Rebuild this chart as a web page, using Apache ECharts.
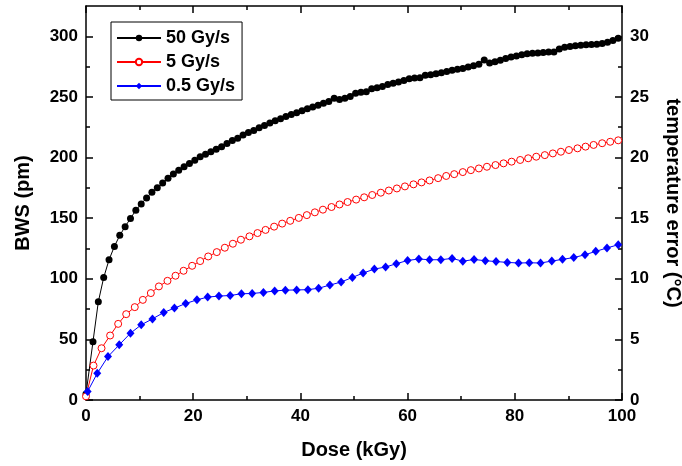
<!DOCTYPE html>
<html><head><meta charset="utf-8">
<script src="https://cdn.jsdelivr.net/npm/echarts@6/dist/echarts.min.js"></script>
<style>html,body{margin:0;padding:0;background:#fff}#c{width:682px;height:466px}</style>
</head><body><div id="c"></div>
<script>
const dose50 = [0,1.3,2.3,3.3,4.3,5.3,6.3,7.3,8.3,9.3,10.3,11.3,12.3,13.3,14.3,15.3,16.3,17.3,18.3,19.3,20.3,21.3,22.3,23.3,24.3,25.3,26.3,27.3,28.3,29.3,30.3,31.3,32.3,33.3,34.3,35.3,36.3,37.3,38.3,39.3,40.3,41.3,42.3,43.3,44.3,45.3,46.3,47.3,48.3,49.3,50.3,51.3,52.3,53.3,54.3,55.3,56.3,57.3,58.3,59.3,60.3,61.3,62.3,63.3,64.3,65.3,66.3,67.3,68.3,69.3,70.3,71.3,72.3,73.3,74.3,75.3,76.3,77.3,78.3,79.3,80.3,81.3,82.3,83.3,84.3,85.3,86.3,87.3,88.3,89.3,90.3,91.3,92.3,93.3,94.3,95.3,96.3,97.3,98.3,99.3];
const bws50 = [5,48,81,101,115.7,126.7,135.8,143,149.8,156.5,161.7,166.7,171.3,175,179,182.9,186.5,189.5,192.3,195,197.8,200.6,202.8,204.7,206.9,209,211.5,214,216,218.5,220.6,222.4,224.5,226.5,228.5,230.3,232,233.8,235.5,237,238.6,240.2,241.7,243.2,244.8,246.3,249,247.8,249,250.3,253,253.8,254.3,256.8,257.5,258.7,260.3,261.2,262.3,263.6,265,265.6,265.8,267.8,268.3,269.2,270,271,271.9,272.8,273.5,274.6,275.8,277,280.5,278,279,280.2,281.6,283,283.8,284.8,285.6,286,286.3,286.6,287,287,289.5,291,291.6,292.2,292.6,293,293.2,293.5,294,295,296.5,298.3];
const dose5 = [0,1.4,2.9,4.5,6.0,7.5,9.1,10.6,12.1,13.6,15.2,16.7,18.2,19.8,21.3,22.8,24.4,25.9,27.4,28.9,30.5,32.0,33.5,35.1,36.6,38.1,39.7,41.2,42.7,44.2,45.8,47.3,48.8,50.4,51.9,53.4,55.0,56.5,58.0,59.5,61.1,62.6,64.1,65.7,67.2,68.7,70.3,71.8,73.3,74.8,76.4,77.9,79.4,81.0,82.5,84.0,85.6,87.1,88.6,90.1,91.7,93.2,94.7,96.3,97.8,99.3];
const bws5 = [3,28.4,42.7,53.2,62.8,70.8,76.6,82.6,88.2,93.7,98.3,102.5,106.6,110.7,114.6,118.4,122,125.6,128.9,132.2,135,137.7,140.3,143,145.5,147.8,150.2,152.5,154.8,157,159.2,161.3,163.3,165.3,167.2,169.1,171,172.8,174.5,176.2,177.9,179.5,181.1,183,184.8,186.3,188,189.6,191,192.4,193.8,195.2,196.6,198,199.4,200.7,202,203.4,204.8,206.2,207.6,209,210.4,211.8,213,214.2];
const dose05 = [0.3,2.1,4.1,6.2,8.3,10.3,12.4,14.5,16.5,18.6,20.7,22.7,24.8,26.9,29.0,31.0,33.1,35.2,37.2,39.3,41.4,43.4,45.5,47.6,49.7,51.7,53.8,55.9,57.9,60.0,62.1,64.1,66.2,68.3,70.3,72.4,74.5,76.5,78.6,80.7,82.7,84.8,86.9,88.9,91.0,93.1,95.1,97.2,99.3];
const bws05 = [7,22,35.8,45.5,55.1,62,66.9,72.2,75.8,79.6,82.6,84.9,85.7,86.2,87.6,87.9,88.7,90,90.6,90.8,91,92.2,94.8,97.3,101.1,104.7,108,109.7,112.4,115.1,116.3,115.7,115.7,116.8,114.5,115.9,114.9,114.2,113.5,113,113.2,113,114.6,116,117.5,119.8,122.6,125.4,128.1];
const leftMajor = [0,50,100,150,200,250,300];
const leftMinor = [25,75,125,175,225,275];
const rightMajor = [0,5,10,15,20,25,30];
const rightMinor = [2.5,7.5,12.5,17.5,22.5,27.5];
const seriesNames = ['50 Gy/s','5 Gy/s','0.5 Gy/s'];

const FONT = '"Liberation Sans", Arial, sans-serif';
const lbl = {color:'#000', fontFamily:FONT, fontWeight:'bold', fontSize:17};
const lineAx = {show:true, onZero:false, lineStyle:{color:'#000', width:1.5}};
function zip(a,b){return a.map((v,i)=>[v,b[i]]);}

const chart = echarts.init(document.getElementById('c'), null, {renderer:'canvas'});
chart.setOption({
  animation:false,
  backgroundColor:'#fff',
  grid:{left:86, right:60, top:6, bottom:66, outerBoundsMode:'none', containLabel:false},
  legend:{
    left:111, top:22, orient:'vertical',
    backgroundColor:'#fff', borderColor:'#000', borderWidth:1,
    padding:[7,7,5,5], itemWidth:44, itemHeight:8, itemGap:6,
    textStyle:{color:'#000', fontFamily:FONT, fontWeight:'bold', fontSize:18},
    data:seriesNames
  },
  xAxis:[
    {type:'value', min:0, max:100, interval:20, position:'bottom',
     name:'Dose (kGy)', nameLocation:'middle', nameGap:40,
     nameTextStyle:{color:'#000', fontFamily:FONT, fontWeight:'bold', fontSize:20},
     axisLine:lineAx, splitLine:{show:false},
     axisTick:{inside:true, length:7, lineStyle:{color:'#000', width:1.5}},
     minorTick:{show:true, splitNumber:2, length:4, lineStyle:{color:'#000', width:1.5}},
     axisLabel:Object.assign({margin:8}, lbl)},
    {type:'value', min:0, max:100, interval:20, position:'top',
     axisLine:lineAx, splitLine:{show:false},
     axisTick:{inside:true, length:7, lineStyle:{color:'#000', width:1.5}},
     minorTick:{show:true, splitNumber:2, length:4, lineStyle:{color:'#000', width:1.5}},
     axisLabel:{show:false}}
  ],
  yAxis:[
    {type:'value', min:0, max:325, position:'left',
     name:'BWS (pm)', nameLocation:'middle', nameGap:53,
     nameTextStyle:{color:'#000', fontFamily:FONT, fontWeight:'bold', fontSize:20},
     axisLine:lineAx, splitLine:{show:false},
     axisTick:{inside:true, length:7, customValues:leftMajor, lineStyle:{color:'#000', width:1.5}},
     axisLabel:Object.assign({margin:8, customValues:leftMajor}, lbl)},
    {type:'value', min:0, max:32.5, position:'right',
     name:'temperature error (°C)', nameLocation:'middle', nameGap:41, nameRotate:-90,
     nameTextStyle:{color:'#000', fontFamily:FONT, fontWeight:'bold', fontSize:20},
     axisLine:lineAx, splitLine:{show:false},
     axisTick:{inside:true, length:7, customValues:rightMajor, lineStyle:{color:'#000', width:1.5}},
     axisLabel:Object.assign({margin:8, customValues:rightMajor}, lbl)},
    {type:'value', min:0, max:325, position:'left',
     axisLine:{show:false, onZero:false}, splitLine:{show:false}, axisLabel:{show:false},
     axisTick:{inside:true, length:4, customValues:leftMinor, lineStyle:{color:'#000', width:1.5}}},
    {type:'value', min:0, max:32.5, position:'right',
     axisLine:{show:false, onZero:false}, splitLine:{show:false}, axisLabel:{show:false},
     axisTick:{inside:true, length:4, customValues:rightMinor, lineStyle:{color:'#000', width:1.5}}}
  ],
  series:[
    {name:seriesNames[0], type:'line', data:zip(dose50,bws50), symbol:'circle', symbolSize:7,
     itemStyle:{color:'#000'}, lineStyle:{color:'#000', width:1}},
    {name:seriesNames[1], type:'line', data:zip(dose5,bws5), symbol:'circle', symbolSize:7,
     itemStyle:{color:'#fff', borderColor:'#ff0000', borderWidth:1}, lineStyle:{color:'#ff0000', width:1}},
    {name:seriesNames[2], type:'line', data:zip(dose05,bws05), symbol:'diamond', symbolSize:[8,9],
     itemStyle:{color:'#0000ff'}, lineStyle:{color:'#0000ff', width:1}}
  ]
});
</script></body></html>
